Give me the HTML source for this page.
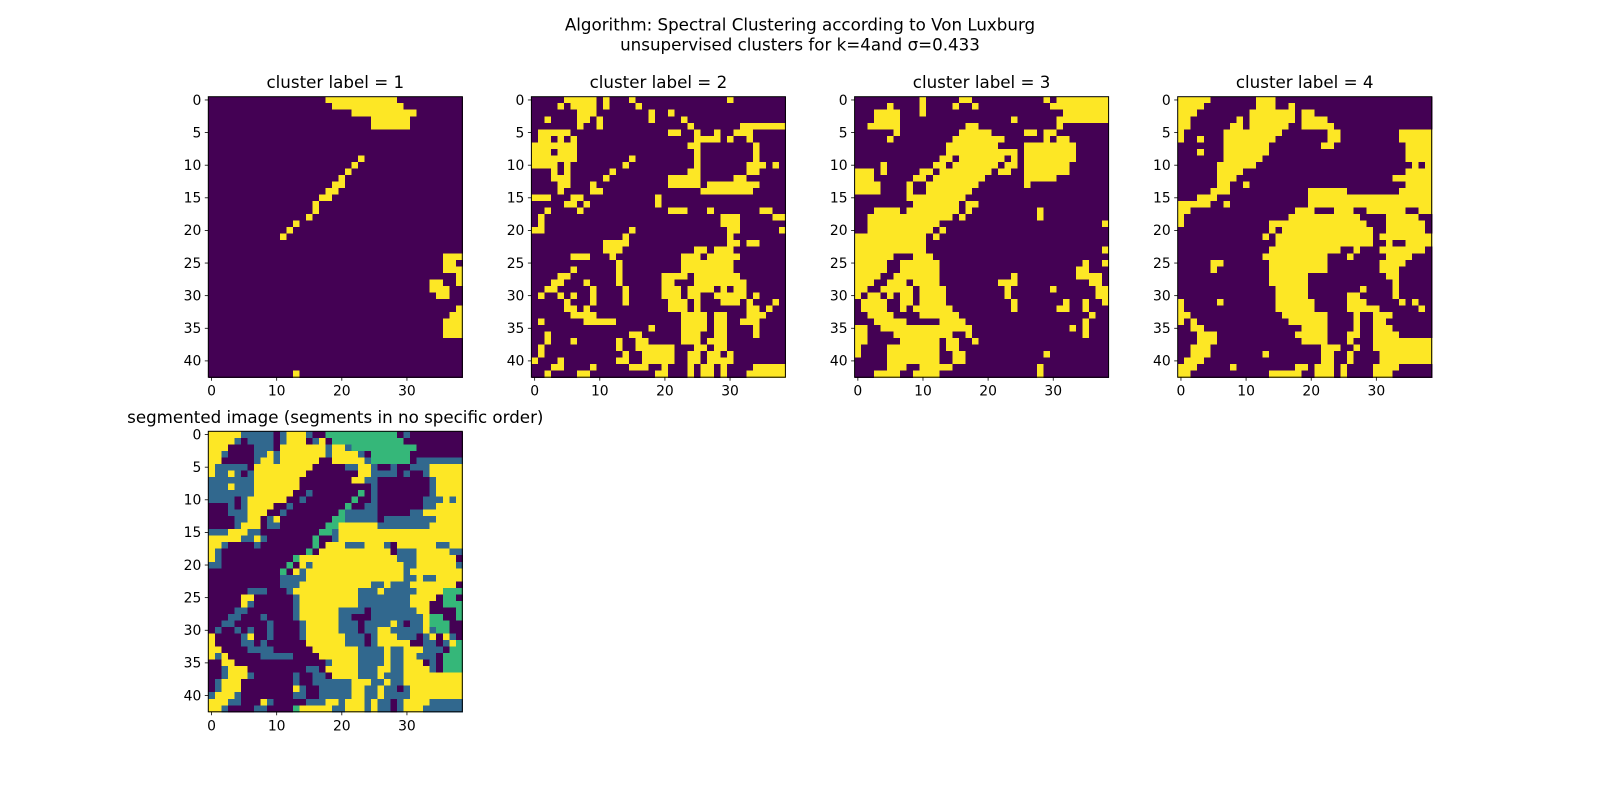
<!DOCTYPE html>
<html><head><meta charset="utf-8"><style>
html,body{margin:0;padding:0;background:#fff;}
svg{display:block;font-family:"DejaVu Sans","Liberation Sans",sans-serif;}
</style></head><body>
<svg id="fig" width="1600" height="800" viewBox="0 0 1600 800">
<text x="800" y="30.5" text-anchor="middle" font-size="16.7" fill="#000">Algorithm: Spectral Clustering according to Von Luxburg</text>
<text x="800" y="50.5" text-anchor="middle" font-size="16.7" fill="#000">unsupervised clusters for k=4and σ=0.433</text>
</svg>
<script>
// segment label per pixel: p=purple(0) b=blue(1) g=green(2) y=yellow(3)
const segRows = [
"yyyyy bbbbb p b yyy b pp ggggggggggg p b pppppppp",
"yyyy b p bbbb p b yyy p b y p ggggggggggg ppppppppp",
"yyy pppp bbb p yyyyyyy b yy b gggggggggg ppppppp",
"yy b pppp bb y b yyyyyyy b yyyy b p gggggg pppppppp",
"yy ppppp b yy b yyyyyy pp yyyyy b gggggg p bbbbbbb",
"y bbbbb p yyyyyyyyy ppppp bb yy b pp b pp bbb yyyyy",
"y bb y b p b yyyyyyyy pppppppp yy bbbb p b pp b yyyyy",
"bbbbbbb yyyyyyy pppppppp yy bb pppppppp b yyyy",
"bbb y bbb yyyyyyy ppppppppppp b pppppppp b yyyy",
"bbbbbbb yyyyyy pp b ppppppp g p b pppppppp b yyyy",
"bbbb p b yyyyyy pp b ppppppp g pp b ppppppp bbb y b y",
"ppp b p b yyyy pp b pppppppp g pp bb ppppppp bb yyyy",
"ppp bbb yyy pp b pppppppp g bbbbb ppppp bb yyyyyy",
"pppp bb yy p b y pppppppp gg bbbbb p bbbbbbbb yyyy",
"pppp b yyy p bb ppppppp gg yyyyyy bbbbbbbb yyyyy",
"bbb yyy bb ppppppppp gg b yyyyyyyyyyyyyyyyyyy",
"yyyyy bb y b ppppppp g pp b yyyyyyyyyyyyyyyyyyy",
"yy b pppp b pppppppp g p yyy bbb yyy b p yyyyyy bb yy",
"y b ppppppppppppp g p yyyyyyyyyyy p bbb yyyyy bb",
"y b ppppppppppp g yyyyyyyyyyyyyyy bbb yyyyyy p",
"bb pppppppppp g p y b yyyyyyyyyyyyyy bb yyyyyy b",
"ppppppppppp g p y b yyyyyyyyyyyyyyy b yyyyyyyy",
"ppppppppppp bbbb yyyyyyyyyyyyyyy bb y bb yyyy",
"ppppppppppp bbb yyyyyyyyyyy bb y bbb yyyyyyy p",
"pppppp bbb ppp b yyyyyyyyyy bbb y bbbbb yyyy ggg",
"ppppp yy pppppp b yyyyyyyyy bbbbbbbb yyyy p gg p",
"ppppp y b pppppp b yyyyyyyyy bbbbbbbb yyy pp ggg",
"pppp bb ppppppp b yyyyyy bbbb p bbbbbbb yy pppp g",
"ppp bb ppp b pppp b yyyyyy bb ppp bbbbbbbb y gg pp g",
"pp bb ppppp b pppp b yyyyy bbb p bbbb y b p bb y ggg pp",
"p b pp b p b pp b pppp b yyyyy bbb p bb yy bbbbb y b gg p",
"y pppp b y pp b pppp b yyyyyy bbb p b yyy bbb p b y p y b p",
"y pppp bb p b pppppp yyyyyy bbb p b yyyyy pp bb p b y g",
"yy pppp bbbb pppppp yyyyyyy bbbb y bb yyy bbb p gg",
"y b y ppppp bbbbb pppp yyyyyy bbbb y bb yy bbb p ggg",
"pp yy pppppppppppppp b yyyy bbbb y bb yyy p b p ggg",
"pp b yyy ppppppppp bb p yyyyy bbb yy bb yyyy b p ggg",
"pp b yyy b pppppp b pp bb p yyyy bbb y bbb yyyyyyyyy",
"p b yyy pppppppp b pp bbbbbb yyy bb y bb yyyyyyyyy",
"p b yyy pppppppp y b pp bbbbb yy bb y bb p b yyyyyyyy",
"b yyy b pppppppp bb pp bbbbb yy bb y bbbb yyyyyyyy",
"yyy bb ppp y b ppppp bbb yy b yyy b y bb p b yyyy bbbbb",
"yy b pppp bb pppp g yyyyy bb yyy b y bb p b yyy bbbbbb"
];
const segValues = {p:0,b:1,g:2,y:3};
const clusterChars = ["g","b","p","y"];
const clusterTitles = ["cluster label = 1","cluster label = 2","cluster label = 3","cluster label = 4"];
const yTicks = [0,5,10,15,20,25,30,35,40];
const xTicks = [0,10,20,30];
const viridis4 = ["#440154","#31688e","#35b779","#fde725"];

const NC = 39, NR = 43;
const grid = segRows.map(r => {
  let s = r.replace(/ /g,"");
  while (s.length < NC) s += s[s.length-1];
  return s.slice(0,NC).split("");
});
const NS = "http://www.w3.org/2000/svg";
const fig = document.getElementById("fig");
function mk(tag, attrs, parent){ const e=document.createElementNS(NS,tag); for(const k in attrs) e.setAttribute(k,attrs[k]); (parent||fig).appendChild(e); return e; }

const W = 254, H = 280.5;
function drawPanel(x0, y0, title, colorFn, name){
  const g = mk("g",{});
  
  
  const cw = W/NC, ch = H/NR;
  const xs = c => x0 + c*cw;
  const ys = r => y0 + r*ch;
  for(let r=0;r<NR;r++){
    for(let c=0;c<NC;c++){
      const rect = mk("rect",{x:xs(c),y:ys(r),width:cw+0.6,height:ch+0.6,fill:colorFn(grid[r][c]),"shape-rendering":"crispEdges"},g);
      
      
    }
  }
  const fr = mk("rect",{x:x0,y:y0,width:W,height:H,fill:"none",stroke:"#000","stroke-width":1},g);
  
  
  const t = mk("text",{x:x0+W/2,y:y0-8.5,"text-anchor":"middle","font-size":16.7,fill:"#000"},g);
  t.textContent = title;
  
  
  yTicks.forEach(v=>{
    const yy = ys(v+0.5);
    mk("line",{x1:x0-3.5,x2:x0,y1:yy,y2:yy,stroke:"#000","stroke-width":0.8},g);
    const tl = mk("text",{x:x0-7,y:yy+4.8,"text-anchor":"end","font-size":13.9,fill:"#000"},g);
    tl.textContent = v;
    
    
  });
  xTicks.forEach(v=>{
    const xx = xs(v+0.5);
    mk("line",{x1:xx,x2:xx,y1:y0+H,y2:y0+H+3.5,stroke:"#000","stroke-width":0.8},g);
    const tl = mk("text",{x:xx,y:y0+H+18.5,"text-anchor":"middle","font-size":13.9,fill:"#000"},g);
    tl.textContent = v;
    
    
  });
}
const lefts = [208.3, 531.4, 854.6, 1177.7];
clusterChars.forEach((ch,i)=>{
  drawPanel(lefts[i], 96.7, clusterTitles[i], v => v===ch ? viridis4[3] : viridis4[0], "cluster-panel-"+(i+1));
});
drawPanel(208.3, 431.3, "segmented image (segments in no specific order)", v => viridis4[segValues[v]], "segmented-image-panel");
</script>
</body></html>
